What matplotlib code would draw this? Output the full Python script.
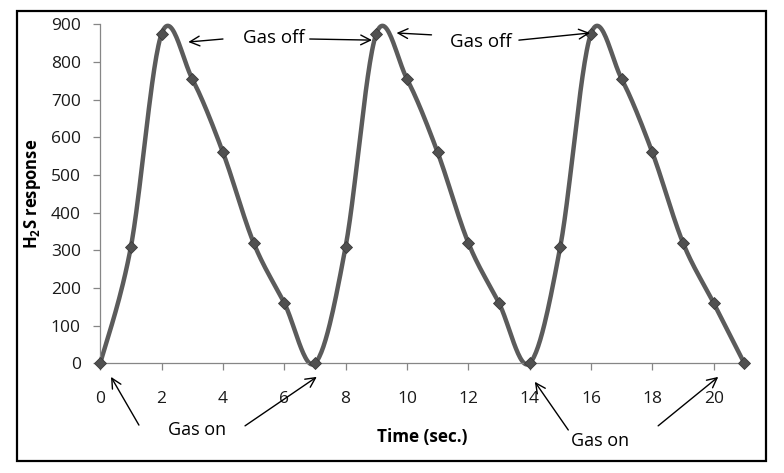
import numpy as np
import matplotlib
matplotlib.use("Agg")
import matplotlib.pyplot as plt
from matplotlib.patches import Rectangle

# ---- data ----
time_s = [0, 1, 2, 3, 4, 5, 6, 7, 8, 9, 10, 11, 12, 13, 14, 15, 16, 17, 18, 19, 20, 21]
response = [0, 310, 875, 755, 560, 320, 160, 0, 310, 875, 755, 560, 320, 160, 0,
            310, 875, 755, 560, 320, 160, 0]
x_ticks = [0, 2, 4, 6, 8, 10, 12, 14, 16, 18, 20]
y_ticks = [0, 100, 200, 300, 400, 500, 600, 700, 800, 900]

plt.rcParams['font.family'] = ['Open Sans', 'DejaVu Sans']
plt.rcParams['mathtext.fontset'] = 'custom'
plt.rcParams['mathtext.rm'] = 'Open Sans'
plt.rcParams['mathtext.bf'] = 'Open Sans:bold'


def smooth(xs, ys, n=30):
    """Excel-like smoothed line (Catmull-Rom Bezier segments)."""
    xs = np.asarray(xs, float)
    ys = np.asarray(ys, float)
    px = np.concatenate([[xs[0]], xs, [xs[-1]]])
    py = np.concatenate([[ys[0]], ys, [ys[-1]]])
    ox, oy = [], []
    t = np.linspace(0, 1, n)
    for i in range(1, len(px) - 2):
        p0 = np.array([px[i], py[i]])
        p3 = np.array([px[i + 1], py[i + 1]])
        c1 = p0 + (np.array([px[i + 1], py[i + 1]]) - np.array([px[i - 1], py[i - 1]])) / 6
        c2 = p3 - (np.array([px[i + 2], py[i + 2]]) - np.array([px[i], py[i]])) / 6
        b = ((1 - t) ** 3)[:, None] * p0 + (3 * (1 - t) ** 2 * t)[:, None] * c1 \
            + (3 * (1 - t) * t ** 2)[:, None] * c2 + (t ** 3)[:, None] * p3
        ox.extend(b[:, 0])
        oy.extend(b[:, 1])
    return np.array(ox), np.array(oy)


fig = plt.figure(figsize=(7.84, 4.73), dpi=100)
ax = fig.add_axes([0.1279, 0.2319, 0.8254, 0.7167])

sx, sy = smooth(time_s, response)
ax.plot(sx, sy, color='#5b5b5b', lw=3.2, solid_capstyle='round', zorder=2, clip_on=False)
ax.plot(time_s, response, linestyle='none', marker='D', markersize=6,
        markerfacecolor='#505050', markeredgecolor='#3a3a3a', markeredgewidth=0.6,
        zorder=3, clip_on=False)

ax.set_xlim(0, 21.1)
ax.set_ylim(0, 900)
ax.set_xticks(x_ticks)
ax.set_yticks(y_ticks)
ax.tick_params(axis='both', direction='out', length=5, width=0.9, color='#868686',
               labelsize=12.5, labelcolor='#1a1a1a')
ax.tick_params(axis='x', pad=15)
ax.tick_params(axis='y', pad=9)
for s in ['top', 'right']:
    ax.spines[s].set_visible(False)
for s in ['left', 'bottom']:
    ax.spines[s].set_color('#868686')
    ax.spines[s].set_linewidth(0.9)

ax.text(0.497, -0.217, 'Time (sec.)', transform=ax.transAxes, ha='center', va='center',
        fontsize=12.3, fontweight='bold')
ax.text(-0.104, 0.499, r'$\mathbf{H_2S}$ response', transform=ax.transAxes,
        ha='center', va='center', rotation=90, fontsize=12, fontweight='bold')

arrow = dict(arrowstyle='->,head_length=0.7,head_width=0.35', color='black', lw=1.0,
             shrinkA=0, shrinkB=0)

# Gas off annotations
ax.text(5.66, 864, 'Gas off', ha='center', va='center', fontsize=13.5)
ax.annotate('', xy=(2.87, 853), xytext=(4.0, 861), arrowprops=arrow, annotation_clip=False)
ax.annotate('', xy=(8.86, 858), xytext=(6.83, 861), arrowprops=arrow, annotation_clip=False)
ax.text(12.40, 853, 'Gas off', ha='center', va='center', fontsize=13.5)
ax.annotate('', xy=(9.66, 877), xytext=(10.8, 872), arrowprops=arrow, annotation_clip=False)
ax.annotate('', xy=(15.97, 877), xytext=(13.65, 858), arrowprops=arrow, annotation_clip=False)

# Gas on annotations
ax.text(3.17, -177, 'Gas on', ha='center', va='center', fontsize=13, clip_on=False)
ax.annotate('', xy=(0.35, -36), xytext=(1.26, -164), arrowprops=arrow, annotation_clip=False)
ax.annotate('', xy=(7.06, -36), xytext=(4.72, -166), arrowprops=arrow, annotation_clip=False)
ax.text(16.29, -205, 'Gas on', ha='center', va='center', fontsize=13, clip_on=False)
ax.annotate('', xy=(14.17, -49), xytext=(15.26, -177), arrowprops=arrow, annotation_clip=False)
ax.annotate('', xy=(20.15, -36), xytext=(18.19, -166), arrowprops=arrow, annotation_clip=False)

# outer frame
fig.patches.append(Rectangle((17 / 784, 12 / 473), 749 / 784, 450 / 473,
                             transform=fig.transFigure, fill=False,
                             edgecolor='black', linewidth=1.6, zorder=0))

fig.savefig('out.png', dpi=100)
